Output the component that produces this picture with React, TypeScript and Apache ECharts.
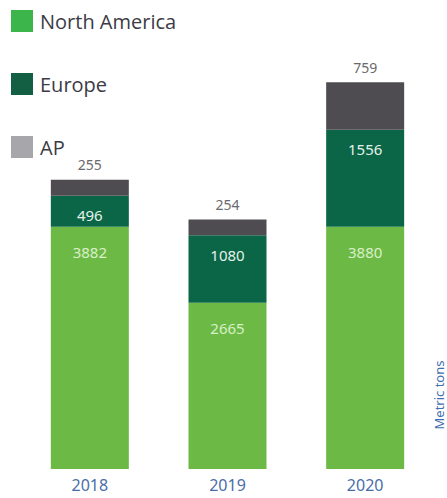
import React, { useEffect, useRef } from "react";
import * as echarts from "echarts";

const categories = ["2018", "2019", "2020"];
const northAmerica = [3882, 2665, 3880];
const europe = [496, 1080, 1556];
const ap = [255, 254, 759];
const seriesNames = ["North America", "Europe", "AP"];
const axisTitle = "Metric tons";

export default function App() {
  const ref = useRef<HTMLDivElement>(null);
  useEffect(() => {
    if (!ref.current) return;
    const chart = echarts.init(ref.current, null, { renderer: "svg" });
    const font = "Noto Sans";
    chart.setOption({
      animation: false,
      backgroundColor: "#ffffff",
      textStyle: { fontFamily: font },
      legend: {
        orient: "vertical",
        left: 6,
        top: 5,
        itemWidth: 22,
        itemHeight: 22,
        itemGap: 41,
        icon: "rect",
        textStyle: { fontSize: 20, color: "#3b3b45", fontFamily: "Open Sans", padding: [0, 0, 0, 2] },
        data: [
          { name: seriesNames[0], itemStyle: { color: "#3cb54a" } },
          { name: seriesNames[1], itemStyle: { color: "#135f43" } },
          { name: seriesNames[2], itemStyle: { color: "#a7a6aa" } },
        ],
      },
      grid: { left: 21, right: 13, top: 82, bottom: 29, containLabel: false },
      xAxis: {
        type: "category",
        data: categories,
        axisLine: { show: false },
        axisTick: { show: false },
        axisLabel: { color: "#4a6ea8", fontSize: 16, margin: 8, fontFamily: font },
      },
      yAxis: {
        type: "value",
        min: 0,
        max: 6200,
        show: false,
        splitLine: { show: false },
      },
      series: [
        {
          name: seriesNames[0],
          type: "bar",
          stack: "t",
          barWidth: 78,
          data: northAmerica,
          itemStyle: { color: "#6cba45" },
          label: {
            show: true,
            position: "insideTop",
            distance: 18,
            color: "#d9efc9",
            fontSize: 15,
            fontFamily: font,
          },
        },
        {
          name: seriesNames[1],
          type: "bar",
          stack: "t",
          data: europe,
          itemStyle: { color: "#0b6647" },
          label: {
            show: true,
            position: "insideTop",
            distance: 12,
            color: "#e4f2ea",
            fontSize: 15,
            fontFamily: font,
          },
        },
        {
          name: seriesNames[2],
          type: "bar",
          stack: "t",
          data: ap,
          itemStyle: { color: "#4e4c50" },
          label: {
            show: true,
            position: "top",
            distance: 8,
            color: "#6a6a6e",
            fontSize: 14,
            fontFamily: font,
          },
        },
      ],
      graphic: [
        {
          type: "text",
          x: 445,
          y: 395,
          rotation: Math.PI / 2,
          style: {
            text: axisTitle,
            fill: "#3f6fb0",
            fontSize: 13,
            fontFamily: font,
            align: "center",
            verticalAlign: "bottom",
          },
        },
      ],
    });
    return () => chart.dispose();
  }, []);
  return (
    <div
      ref={ref}
      style={{ position: "fixed", left: 0, top: 0, width: 447, height: 498 }}
    />
  );
}
